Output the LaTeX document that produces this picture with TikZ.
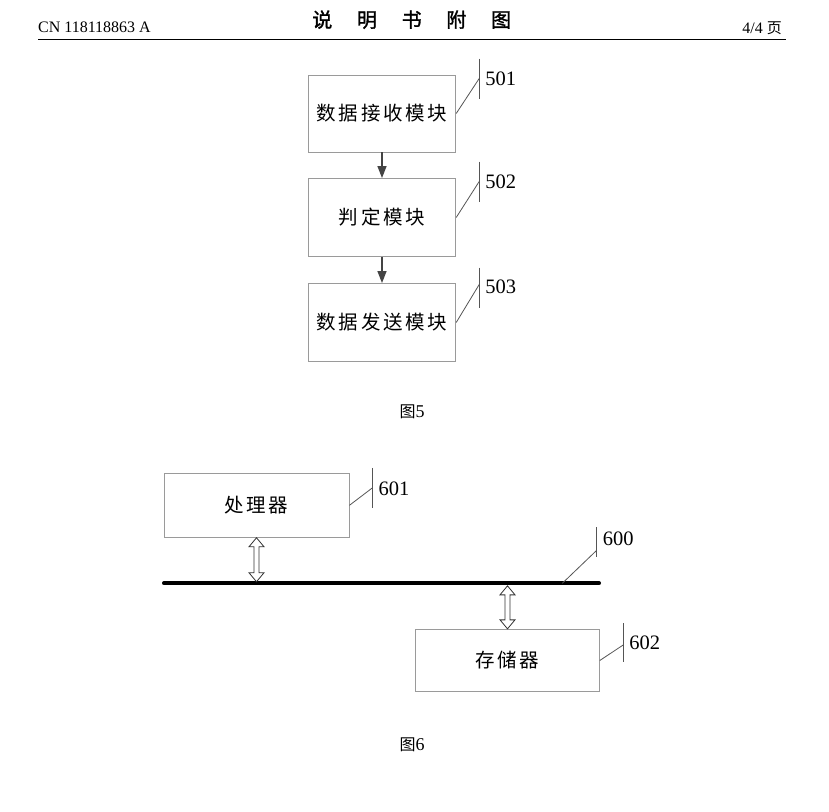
\documentclass[tikz,border=0pt]{standalone}
\usepackage{fontspec}
\setmainfont{Liberation Serif}
\newfontfamily\cjk{Noto Sans CJK SC}
\newfontfamily\cjkls[LetterSpace=14]{Noto Sans CJK SC}
\newfontfamily\cjkb[FakeBold=1.5]{Noto Sans CJK SC}
\usetikzlibrary{arrows.meta,calc}
\definecolor{boxgray}{HTML}{9A9A9A}
\definecolor{leadgray}{HTML}{555555}
\definecolor{arrgray}{HTML}{444444}
\newcommand\hollowdbl[2]{%
  (#1) -- ++(7.5,9) -- ++(-5,0) -- ++(0,#2-18) -- ++(5,0) -- ++(-7.5,9)
  -- ++(-7.5,-9) -- ++(5,0) -- ++(0,-#2+18) -- ++(-5,0) -- cycle}
\begin{document}
\begin{tikzpicture}[x=1pt,y=-1pt,
  mbox/.style={draw=boxgray, line width=0.9pt, inner sep=0pt,
    font=\cjkls\fontsize{19.5}{19.5}\selectfont},
  leader/.style={draw=leadgray, line width=0.8pt},
  refnum/.style={anchor=west, inner sep=0pt, font=\fontsize{20.5}{20.5}\selectfont},
  flowarrow/.style={draw=arrgray, line width=1.3pt, -{Triangle[length=12pt,width=9pt]}},
  dblarrow/.style={draw=black!80, line width=0.8pt, fill=white},
  caption/.style={inner sep=0pt, font=\fontsize{18}{18}\selectfont}
]
\useasboundingbox (0,0) rectangle (829,811);

% header
\node[anchor=base west, inner sep=0pt, font=\fontsize{16}{16}\selectfont] (hdrL) at (38,32) {CN 118118863 A};
\node[inner sep=0pt, font=\cjkb\fontsize{20}{20}\selectfont] (hdrT) at (411.7,19.7)
  {说\hspace{24.7pt}明\hspace{24.7pt}书\hspace{24.7pt}附\hspace{24.7pt}图};
\node[anchor=base east, inner sep=0pt, font=\fontsize{16}{16}\selectfont] (hdrR) at (782,33) {4/4 {\cjk\fontsize{15}{15}\selectfont 页}};
\coordinate (ruleL) at (38,39.5);
\coordinate (ruleR) at (786,39.5);
\draw[line width=1.6pt] (ruleL) -- (ruleR);

% Figure 5
\node[mbox, minimum width=147.5pt, minimum height=77pt] (b501) at (382,113.5) {数据接收模块};
\node[mbox, minimum width=147.5pt, minimum height=78pt] (b502) at (382,217.5) {判定模块};
\node[mbox, minimum width=147.5pt, minimum height=78pt] (b503) at (382,322.5) {数据发送模块};
\draw[flowarrow] (b501) -- (b502);
\draw[flowarrow] (b502) -- (b503);

\coordinate (e501) at ($(b501.east)+(23,-35)$);
\coordinate (e502) at ($(b502.east)+(23,-36)$);
\coordinate (e503) at ($(b503.east)+(23,-38)$);
\draw[leader] (b501.east) -- (e501);
\draw[leader] ($(e501)+(0,-20)$) -- ($(e501)+(0,20)$);
\draw[leader] (b502.east) -- (e502);
\draw[leader] ($(e502)+(0,-20)$) -- ($(e502)+(0,20)$);
\draw[leader] (b503.east) -- (e503);
\draw[leader] ($(e503)+(0,-17)$) -- ($(e503)+(0,23)$);
\node[refnum] (n501) at ($(e501)+(6,0)$) {501};
\node[refnum] (n502) at ($(e502)+(6,0)$) {502};
\node[refnum] (n503) at ($(e503)+(6,2)$) {503};

\node[caption] (cap5) at (412,412) {{\cjk\fontsize{16}{16}\selectfont 图}5};

% Figure 6
\node[mbox, minimum width=185pt, minimum height=64pt] (proc) at (256.5,505.3) {处理器};
\node[mbox, minimum width=183.6pt, minimum height=62.4pt] (mem) at (507.5,660.5) {存储器};
\coordinate (busL) at (164,583.3);
\coordinate (busR) at (599,583.3);
\draw[line width=4pt, line cap=round] (busL) -- (busR);

\draw[dblarrow] \hollowdbl{proc.south}{44};
\draw[dblarrow] \hollowdbl{$(mem.north)+(0,-43)$}{43};

\coordinate (e601) at ($(proc.east)+(23,-17.5)$);
\coordinate (e602) at ($(mem.east)+(23.4,-15.5)$);
\coordinate (busP) at (562.3,583.3);
\coordinate (e600) at ($(busP)+(34.4,-33)$);
\draw[leader] (proc.east) -- (e601);
\draw[leader] ($(e601)+(0,-20)$) -- ($(e601)+(0,20)$);
\draw[leader] (mem.east) -- (e602);
\draw[leader] ($(e602)+(0,-22)$) -- ($(e602)+(0,17)$);
\draw[leader] (busP) -- (e600);
\draw[leader] ($(e600)+(0,-23)$) -- ($(e600)+(0,7)$);
\node[refnum] (n601) at ($(e601)+(6,1)$) {601};
\node[refnum] (n600) at ($(e600)+(6,-12)$) {600};
\node[refnum] (n602) at ($(e602)+(6,-2)$) {602};

\node[caption] (cap6) at (412,745) {{\cjk\fontsize{16}{16}\selectfont 图}6};
\end{tikzpicture}
\end{document}
